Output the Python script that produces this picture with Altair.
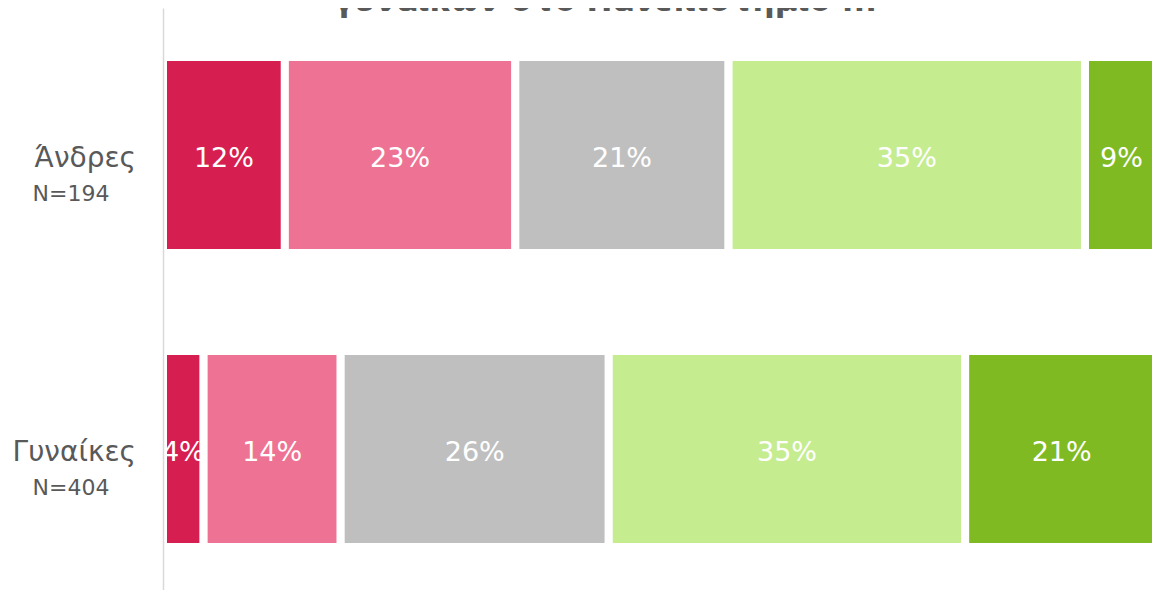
import altair as alt
import pandas as pd

# ---- data ----
groups = ["Άνδρες", "Γυναίκες"]
sizes = ["N=194", "N=404"]
levels = ["l1", "l2", "l3", "l4", "l5"]
men = [12.0, 22.7, 21.0, 35.1, 9.2]
women = [4.0, 13.5, 26.4, 35.1, 21.0]
men_labels = ["12%", "23%", "21%", "35%", "9%"]
women_labels = ["4%", "14%", "26%", "35%", "21%"]
colors = ["#D71E50", "#EE7294", "#BFBFBF", "#C6EC90", "#7FBA22"]
title_line = "γυναικών στο Πανεπιστήμιο ..."

X_VISIBLE = 98.0  # right edge of the visible part of the axis (percent)

rows = []
for g, vals, labs in [(groups[0], men, men_labels), (groups[1], women, women_labels)]:
    acc = 0.0
    for lev, v, lab in zip(levels, vals, labs):
        rows.append({"group": g, "level": lev, "x0": acc, "x1": acc + v,
                     "mid": (acc + min(acc + v, X_VISIBLE)) / 2, "label": lab})
        acc += v
df = pd.DataFrame(rows)
names = pd.DataFrame({"group": groups, "n": sizes})
title_df = pd.DataFrame({"t": [title_line]})

FONT = "DejaVu Sans"
GREY = "#595959"

yscale = alt.Scale(domain=groups, range=[0, 588], paddingInner=1 / 3, paddingOuter=1 / 6)
xscale = alt.Scale(domain=[0, 97.4], nice=False, zero=True)

bars = alt.Chart(df).mark_bar(stroke="white", strokeWidth=8).encode(
    x=alt.X("x0:Q", scale=xscale, axis=None),
    x2="x1:Q",
    y=alt.Y("group:N", scale=yscale,
            axis=alt.Axis(labels=False, ticks=False, title=None, domainColor="#D9D9D9",
                          domainWidth=1.5, zindex=1)),
    color=alt.Color("level:N", scale=alt.Scale(domain=levels, range=colors), legend=None),
)

bar_text = alt.Chart(df).mark_text(color="white", font=FONT, fontSize=27, baseline="alphabetic",
                                   dy=12, clip=True).encode(
    x=alt.X("mid:Q", scale=xscale, axis=None),
    y=alt.Y("group:N", scale=yscale),
    text="label:N",
)

name_text = alt.Chart(names).mark_text(color=GREY, font=FONT, fontSize=28, align="right",
                                       baseline="alphabetic", dy=12).encode(
    x=alt.value(-27),
    y=alt.Y("group:N", scale=yscale),
    text="group:N",
)

n_text = alt.Chart(names).mark_text(color=GREY, font=FONT, fontSize=22, align="center",
                                    baseline="alphabetic", dy=46).encode(
    x=alt.value(-92),
    y=alt.Y("group:N", scale=yscale),
    text="n:N",
)

title_text = alt.Chart(title_df).mark_text(color=GREY, font=FONT, fontSize=31, fontWeight="bold",
                                           align="center", baseline="alphabetic").encode(
    x=alt.value(442),
    y=alt.value(3),
    text="t:N",
)

chart = alt.layer(bars, bar_text, name_text, n_text, title_text).properties(
    width=989, height=582,
    autosize=alt.AutoSizeParams(type="none"),
    padding={"left": 155, "top": 0, "right": 0, "bottom": 0},
    background="white",
).configure_view(stroke=None)

chart.save("out.html", embed_options={"renderer": "svg", "actions": False})
